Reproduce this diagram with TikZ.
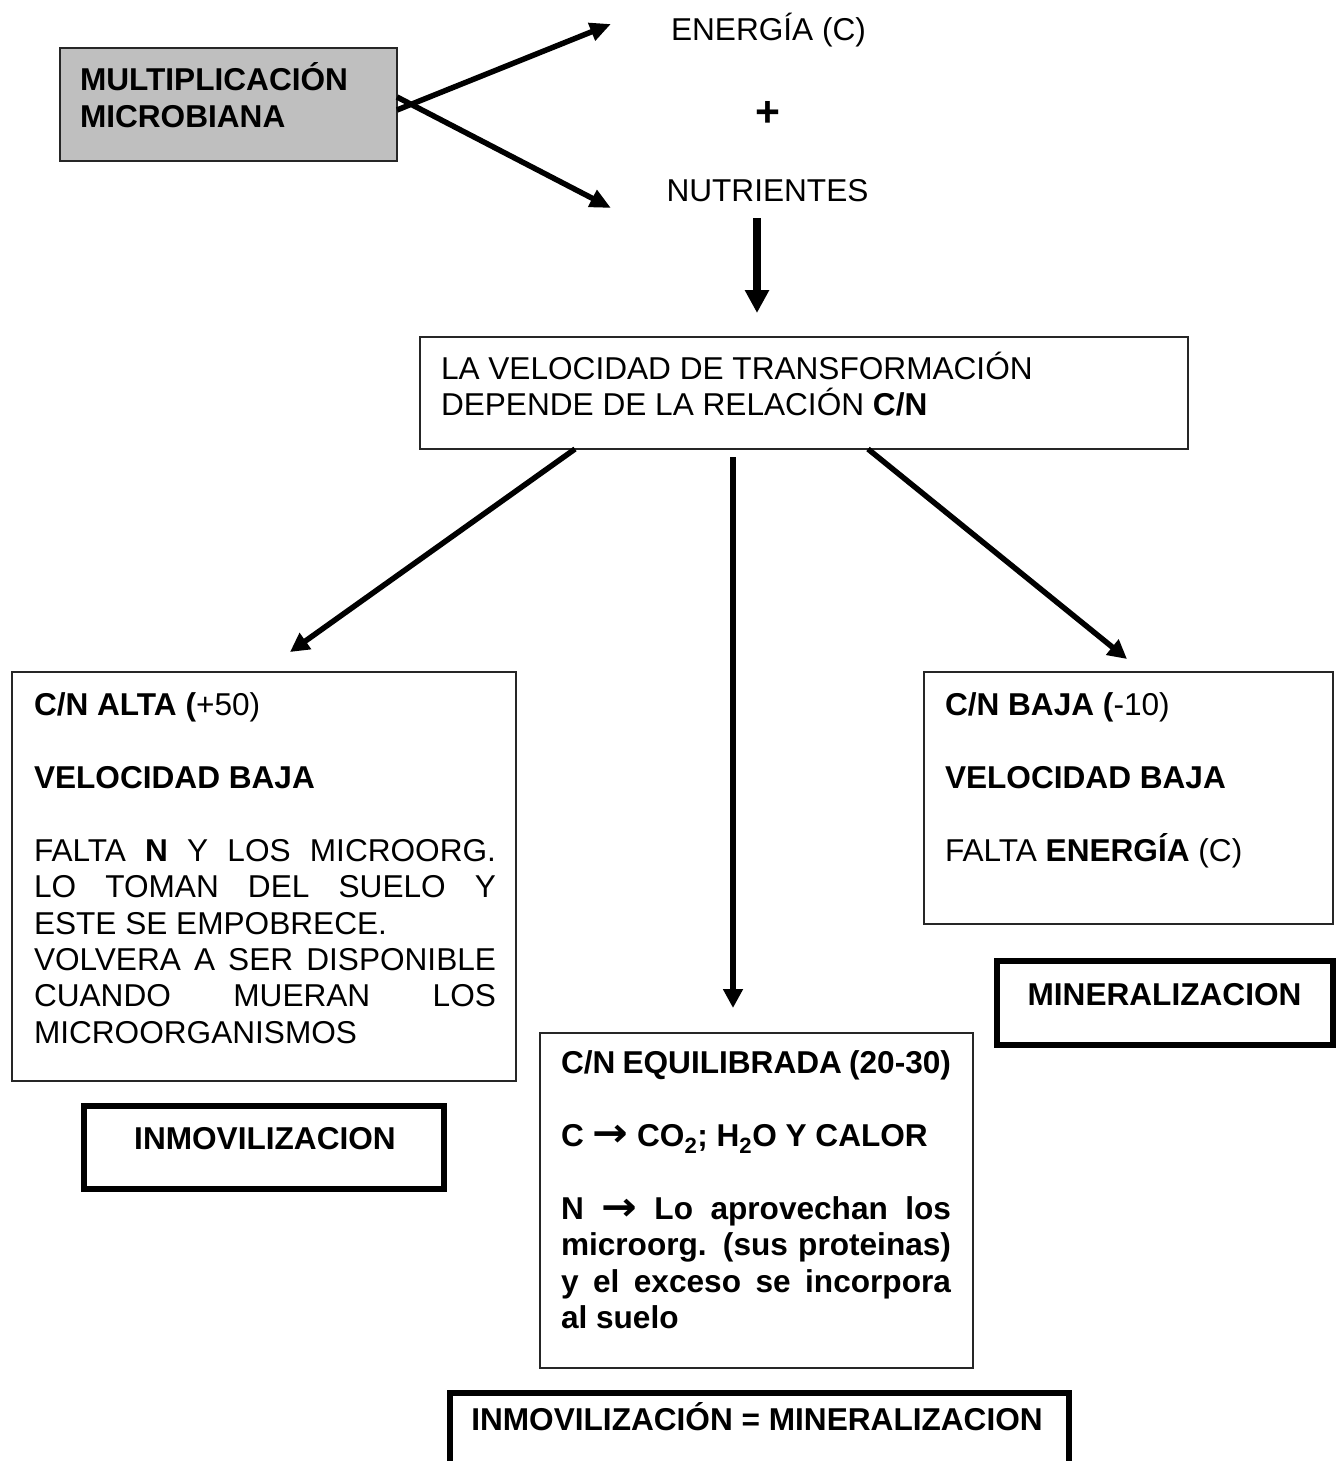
\documentclass[tikz,border=0pt]{standalone}
\usepackage{fontspec}
\setmainfont{Liberation Sans}
\newfontfamily\arrowfont{DejaVu Sans}
\usetikzlibrary{arrows.meta}
\newcommand{\ra}{\raisebox{-0.5pt}{\scalebox{1.35}[1.25]{\arrowfont\bfseries →}}}
\newcommand{\jline}[1]{\makebox[\linewidth][s]{#1}}
\begin{document}
\begin{tikzpicture}[x=1pt,y=-1pt,
  every node/.style={inner sep=0pt,outer sep=0pt,font=\fontsize{31.6}{36.3}\selectfont},
  thinbox/.style={draw=black!85,line width=2pt,rectangle},
  thickbox/.style={draw=black,line width=6pt,rectangle},
  graybox/.style={draw=black!85,line width=2pt,fill=black!25,rectangle},
  label/.style={anchor=base},
  blocktext/.style={anchor=base west},
  arr/.style={line width=5.5pt,-{Triangle[length=19pt,width=19pt]}},
  bigarr/.style={line width=8pt,-{Triangle[length=23pt,width=23pt]}}]
\clip (0,0) rectangle (1341,1461);
\fill[white] (0,0) rectangle (1341,1461);

% top: origin box and its two products
\node[graybox,minimum width=337pt,minimum height=113pt] (multi) at (228.5,104.5) {};
\node[blocktext] (multitxt) at (80,91)
  {\parbox[t]{300pt}{\bfseries MULTIPLICACIÓN\\MICROBIANA}};
\node[label] (energia) at (768.5,41) {ENERGÍA (C)};
\node (plus) at (768,114) {\scalebox{1.35}{\bfseries +}};
\node[label] (nutri) at (767.5,201) {NUTRIENTES};

\coordinate (tipE) at (611,24);
\coordinate (tipN) at (611,208);
\draw[arr,-{Triangle[length=21pt,width=18pt]}] ([yshift=-5.5pt]multi.east) -- (tipE);
\draw[arr,-{Triangle[length=21pt,width=18pt]}] ([yshift=7.5pt]multi.east) -- (tipN);

% central box
\node[thinbox,minimum width=768pt,minimum height=112pt] (vel) at (804,393) {};
\node[blocktext] (veltxt) at (441,379)
  {\parbox[t]{700pt}{LA VELOCIDAD DE TRANSFORMACIÓN\\DEPENDE DE LA RELACIÓN \textbf{C/N}}};
\coordinate (tipV) at (757,313);
\draw[bigarr] ([yshift=-17pt]nutri.base -| tipV) -- (tipV);

% left branch: high C/N
\node[thinbox,minimum width=504pt,minimum height=409pt] (alta) at (264,876.5) {};
\node[blocktext] (altatxt) at (34,715)
  {\parbox[t]{462pt}{\textbf{C/N ALTA (}+50)\\[37pt]
   \textbf{VELOCIDAD BAJA}\\[37pt]
   \jline{FALTA \textbf{N} Y LOS MICROORG.}\\
   \jline{LO TOMAN DEL SUELO Y}\\
   ESTE SE EMPOBRECE.\\
   \jline{VOLVERA A SER DISPONIBLE}\\
   \jline{CUANDO MUERAN LOS}\\
   MICROORGANISMOS}};
\node[thickbox,minimum width=360pt,minimum height=83pt] (inmov) at (264,1147.5) {};
\node[label] (inmovtxt) at (265,1149) {\bfseries INMOVILIZACION};

% right branch: low C/N
\node[thinbox,minimum width=409pt,minimum height=252pt] (baja) at (1128.5,798) {};
\node[blocktext] (bajatxt) at (945,715)
  {\parbox[t]{380pt}{\textbf{C/N BAJA (}-10)\\[37pt]
   \textbf{VELOCIDAD BAJA}\\[37pt]
   FALTA \textbf{ENERGÍA} (C)}};
\node[thickbox,minimum width=336pt,minimum height=84pt] (miner) at (1165,1003) {};
\node[label] (minertxt) at (1164.5,1005) {\bfseries MINERALIZACION};

% middle branch: balanced C/N
\node[thinbox,minimum width=433pt,minimum height=335pt] (mid) at (756.5,1200.5) {};
\node[blocktext] (midtxt) at (561,1073)
  {\parbox[t]{390pt}{\bfseries C/N EQUILIBRADA (20-30)\\[37pt]
   C \ra{} CO\textsubscript{2}; H\textsubscript{2}O Y CALOR\\[37pt]
   \jline{N \ra{} Lo aprovechan los}\\
   \jline{microorg. (sus proteinas)}\\
   \jline{y el exceso se incorpora}\\
   al suelo}};
\node[thickbox,minimum width=619pt,minimum height=87pt] (equal) at (759.5,1436.5) {};
\node[label] (equaltxt) at (757,1430) {\bfseries INMOVILIZACIÓN = MINERALIZACION};

% branches out of the central box
\coordinate (tipA) at (290,652);
\coordinate (tipB) at (1127,659);
\coordinate (tipM) at (733,1008);
\draw[arr] ([xshift=155pt]vel.south west) -- (tipA);
\draw[arr] ([xshift=448pt]vel.south west) -- (tipB);
\draw[arr] ([xshift=313pt,yshift=-8pt]vel.south west) -- (tipM);
\end{tikzpicture}
\end{document}
